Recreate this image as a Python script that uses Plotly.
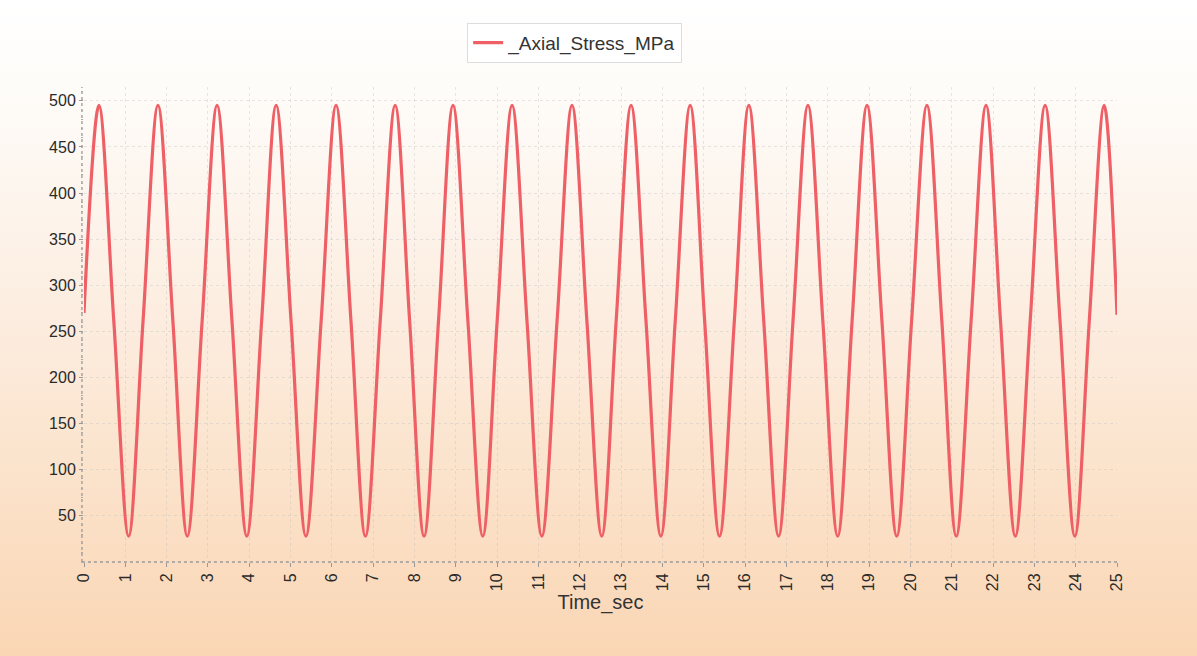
import plotly.graph_objects as go

# Key points (peaks, troughs, mid-crossings)
time_sec = [0.00, 0.36, 0.72, 1.08, 1.43, 1.79, 2.15, 2.50, 2.86, 3.22, 3.58, 3.94,
            4.30, 4.65, 5.01, 5.37, 5.74, 6.10, 6.46, 6.81, 7.17, 7.53, 7.88, 8.23,
            8.58, 8.93, 9.29, 9.65, 10.00, 10.36, 10.72, 11.08, 11.45, 11.81, 12.17, 12.53,
            12.88, 13.24, 13.60, 13.96, 14.31, 14.67, 15.02, 15.38, 15.74, 16.09, 16.45, 16.81,
            17.16, 17.52, 17.88, 18.24, 18.59, 18.95, 19.31, 19.67, 20.03, 20.40, 20.76, 21.11,
            21.47, 21.83, 22.18, 22.54, 22.90, 23.26, 23.62, 23.98, 24.33, 24.69, 25.00]
axial_stress_mpa = [270, 495, 262, 28, 262, 495, 262, 28, 262, 495, 262, 28,
                    262, 495, 262, 28, 262, 495, 262, 28, 262, 495, 262, 28,
                    262, 495, 262, 28, 262, 495, 262, 28, 262, 495, 262, 28,
                    262, 495, 262, 28, 262, 495, 262, 28, 262, 495, 262, 28,
                    262, 495, 262, 28, 262, 495, 262, 28, 262, 495, 262, 28,
                    262, 495, 262, 28, 262, 495, 262, 28, 262, 495, 268]

x_ticks = list(range(0, 26))
y_ticks = [50, 100, 150, 200, 250, 300, 350, 400, 450, 500]

W, H = 1197, 656
ML, MR, MT, MB = 84, 80, 87, 94
plot_h = H - MT - MB

fig = go.Figure()
fig.add_trace(go.Scatter(
    x=time_sec, y=axial_stress_mpa, mode="lines", name="_Axial_Stress_MPa",
    line=dict(color="#ee5f66", width=3.2, shape="spline", smoothing=1.0),
))

# background gradient (white top -> peach bottom)
stops = [(0, (255, 255, 255)), (110, (254, 251, 247)), (330, (252, 236, 222)),
         (500, (251, 225, 200)), (656, (250, 214, 180))]
def col_at(py):
    for (a, ca), (b, cb) in zip(stops[:-1], stops[1:]):
        if a <= py <= b:
            f = (py - a) / (b - a)
            return tuple(round(ca[i] + f * (cb[i] - ca[i])) for i in range(3))
    return stops[-1][1]

shapes = []
n = 82
for i in range(n):
    py0 = H * i / n
    py1 = H * (i + 1) / n + 0.8
    c = col_at((py0 + py1) / 2)
    shapes.append(dict(type="rect", xref="paper", yref="paper",
                       x0=-0.2, x1=1.2,
                       y0=(H - MB - py1) / plot_h, y1=(H - MB - py0) / plot_h,
                       fillcolor="rgb(%d,%d,%d)" % c, line=dict(width=0), layer="below"))
# dotted axis lines
shapes.append(dict(type="line", xref="paper", yref="paper", x0=-0.002, x1=-0.002, y0=0, y1=1,
                   line=dict(color="#9a9a9a", width=1.3, dash="dot"), layer="below"))
shapes.append(dict(type="line", xref="paper", yref="paper", x0=-0.002, x1=1.0, y0=0, y1=0,
                   line=dict(color="#9a9a9a", width=1.3, dash="dot"), layer="below"))

grid_col = "rgba(185,185,185,0.32)"
fig.update_layout(
    width=W, height=H,
    margin=dict(l=ML, r=MR, t=MT, b=MB),
    paper_bgcolor="white", plot_bgcolor="rgba(0,0,0,0)",
    font=dict(family="Liberation Sans, Arial, sans-serif", color="#333333"),
    shapes=shapes,
    showlegend=True,
    legend=dict(orientation="h", x=0.475, xanchor="center", y=1.093, yanchor="middle",
                bgcolor="rgba(255,255,255,0.9)", bordercolor="#dddddd", borderwidth=1,
                font=dict(size=19, color="#333333")),
    xaxis=dict(range=[0, 25], tickvals=x_ticks, ticktext=[str(v) for v in x_ticks],
               tickangle=-90, tickfont=dict(size=16, color="#2a2a2a"),
               ticks="outside", ticklen=4, tickcolor="#999999",
               showgrid=True, gridcolor=grid_col, griddash="dot", gridwidth=1,
               zeroline=False, showline=False,
               title=dict(text="Time_sec", font=dict(size=20, color="#333333"), standoff=4)),
    yaxis=dict(range=[0, 515], tickvals=y_ticks, ticktext=[str(v) for v in y_ticks],
               tickfont=dict(size=16, color="#2a2a2a"),
               ticks="outside", ticklen=4, tickcolor="#999999",
               minor=dict(dtick=10, ticks="outside", ticklen=2, tickcolor="#aaaaaa", showgrid=False),
               showgrid=True, gridcolor=grid_col, griddash="dot", gridwidth=1,
               zeroline=False, showline=False),
)

fig.write_html("out.html", config={"displayModeBar": False},
               post_script="document.body.style.margin='0';document.body.style.background='white';")
